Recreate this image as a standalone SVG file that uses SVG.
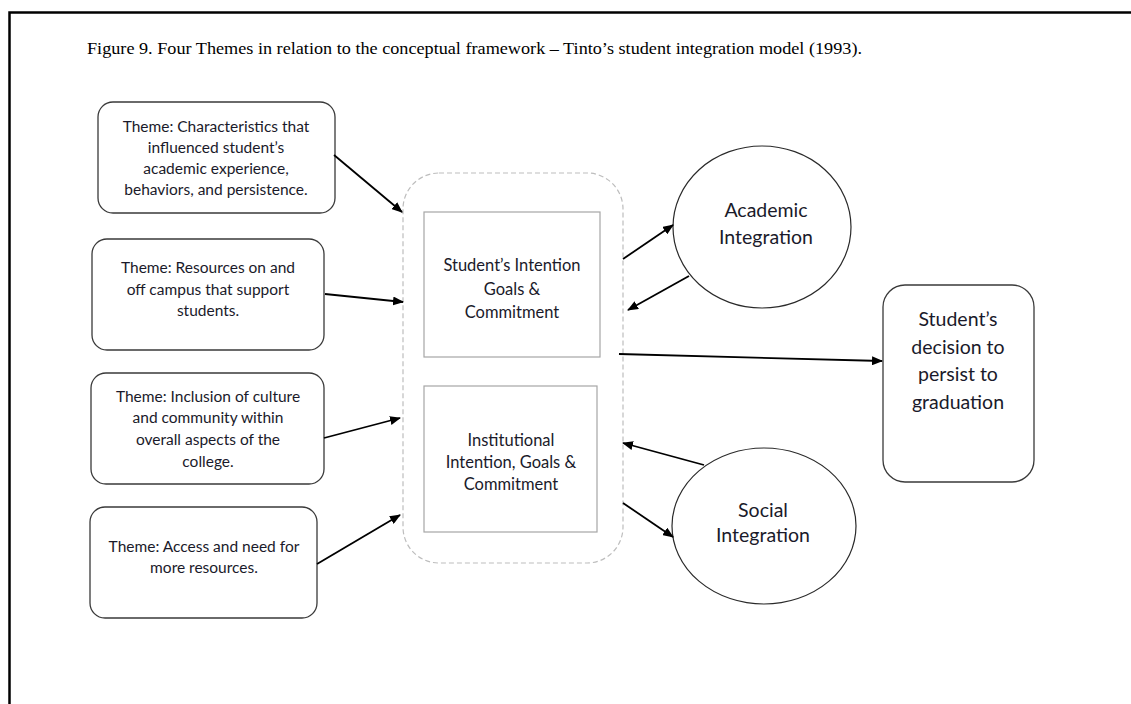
<svg xmlns="http://www.w3.org/2000/svg" width="1131" height="704" viewBox="0 0 1131 704">
  <style>
    .frame { fill: none; stroke: #000; stroke-width: 2.5; }
    .title { font-family: "Liberation Serif", "Times New Roman", serif; font-size: 17.5px; fill: #000; }
    .theme { fill: #fff; stroke: #3a3a3a; stroke-width: 1.3; }
    .ttxt { font-family: Lato, "Liberation Sans", sans-serif; font-size: 15.5px; fill: #1a1a2a; text-anchor: middle; }
    .group { fill: none; stroke: #bdbdbd; stroke-width: 1.2; stroke-dasharray: 5 3; }
    .inner { fill: #fff; stroke: #a6a6a6; stroke-width: 1.2; }
    .itxt { font-family: Lato, "Liberation Sans", sans-serif; font-size: 16.5px; fill: #1a1a2a; text-anchor: middle; }
    .circ { fill: #fff; stroke: #2a2a2a; stroke-width: 1.2; }
    .ctxt { font-family: Lato, "Liberation Sans", sans-serif; font-size: 19.5px; fill: #1a1a2a; text-anchor: middle; }
    .conn line { stroke: #000; stroke-width: 1.8; marker-end: url(#arrow); }
  </style>
  <defs>
    <marker id="arrow" markerWidth="11" markerHeight="9" refX="10" refY="4.5" orient="auto" markerUnits="userSpaceOnUse">
      <path d="M0,0 L11,4.5 L0,9 Z" fill="#000"/>
    </marker>
  </defs>

  <rect width="1131" height="704" fill="#fff"/>
  <!-- page frame: open on right and bottom -->
  <path class="frame" d="M9.5,704 V12.5 H1131"/>

  <text class="title" x="87" y="54" textLength="775" lengthAdjust="spacingAndGlyphs">Figure 9. Four Themes in relation to the conceptual framework – Tinto’s student integration model (1993).</text>

  <!-- theme boxes -->
  <g id="theme-characteristics">
    <rect class="theme" x="98" y="102" width="237" height="111" rx="15"/>
    <text class="ttxt" x="216" y="132">Theme: Characteristics that</text>
    <text class="ttxt" x="216" y="153">influenced student’s</text>
    <text class="ttxt" x="216" y="174">academic experience,</text>
    <text class="ttxt" x="216" y="195">behaviors, and persistence.</text>
  </g>
  <g id="theme-resources">
    <rect class="theme" x="92" y="239" width="232" height="111" rx="15"/>
    <text class="ttxt" x="208" y="273">Theme: Resources on and</text>
    <text class="ttxt" x="208" y="295">off campus that support</text>
    <text class="ttxt" x="208" y="316">students.</text>
  </g>
  <g id="theme-culture">
    <rect class="theme" x="91" y="373" width="233" height="111" rx="15"/>
    <text class="ttxt" x="208" y="402">Theme: Inclusion of culture</text>
    <text class="ttxt" x="208" y="423">and community within</text>
    <text class="ttxt" x="208" y="445">overall aspects of the</text>
    <text class="ttxt" x="208" y="467">college.</text>
  </g>
  <g id="theme-access">
    <rect class="theme" x="90" y="507" width="227" height="111" rx="15"/>
    <text class="ttxt" x="204" y="552">Theme: Access and need for</text>
    <text class="ttxt" x="204" y="573">more resources.</text>
  </g>

  <!-- intention & commitment group -->
  <g id="commitment-group">
    <rect class="group" x="403" y="173" width="220" height="390" rx="36"/>
  </g>
  <g id="student-intention">
    <rect class="inner" x="424" y="212" width="176" height="145"/>
    <text class="itxt" x="512" y="271">Student’s Intention</text>
    <text class="itxt" x="512" y="295">Goals &amp;</text>
    <text class="itxt" x="512" y="318">Commitment</text>
  </g>
  <g id="institutional-intention">
    <rect class="inner" x="424" y="386" width="173" height="146"/>
    <text class="itxt" x="511" y="446">Institutional</text>
    <text class="itxt" x="511" y="468">Intention, Goals &amp;</text>
    <text class="itxt" x="511" y="490">Commitment</text>
  </g>

  <!-- integration circles -->
  <g id="academic-integration">
    <ellipse class="circ" cx="762" cy="227" rx="89" ry="81"/>
    <text class="ctxt" x="766" y="217">Academic</text>
    <text class="ctxt" x="766" y="244">Integration</text>
  </g>
  <g id="social-integration">
    <ellipse class="circ" cx="764" cy="526" rx="92" ry="78"/>
    <text class="ctxt" x="763" y="517">Social</text>
    <text class="ctxt" x="763" y="542">Integration</text>
  </g>

  <!-- outcome -->
  <g id="persistence-decision">
    <rect class="theme" x="883" y="285" width="151" height="197" rx="22"/>
    <text class="ctxt" x="958" y="326">Student’s</text>
    <text class="ctxt" x="958" y="354">decision to</text>
    <text class="ctxt" x="958" y="381">persist to</text>
    <text class="ctxt" x="958" y="409">graduation</text>
  </g>

  <!-- connectors -->
  <g id="connectors" class="conn">
    <line x1="334" y1="155" x2="402" y2="212"/>
    <line x1="325" y1="294" x2="403" y2="302"/>
    <line x1="324" y1="438" x2="400" y2="418"/>
    <line x1="317" y1="564" x2="400" y2="515"/>
    <line x1="623" y1="259" x2="673" y2="225"/>
    <line x1="689" y1="276" x2="628" y2="310"/>
    <line x1="619" y1="354" x2="882" y2="361"/>
    <line x1="704" y1="465" x2="623" y2="443"/>
    <line x1="623" y1="503" x2="673" y2="537"/>
  </g>
</svg>
